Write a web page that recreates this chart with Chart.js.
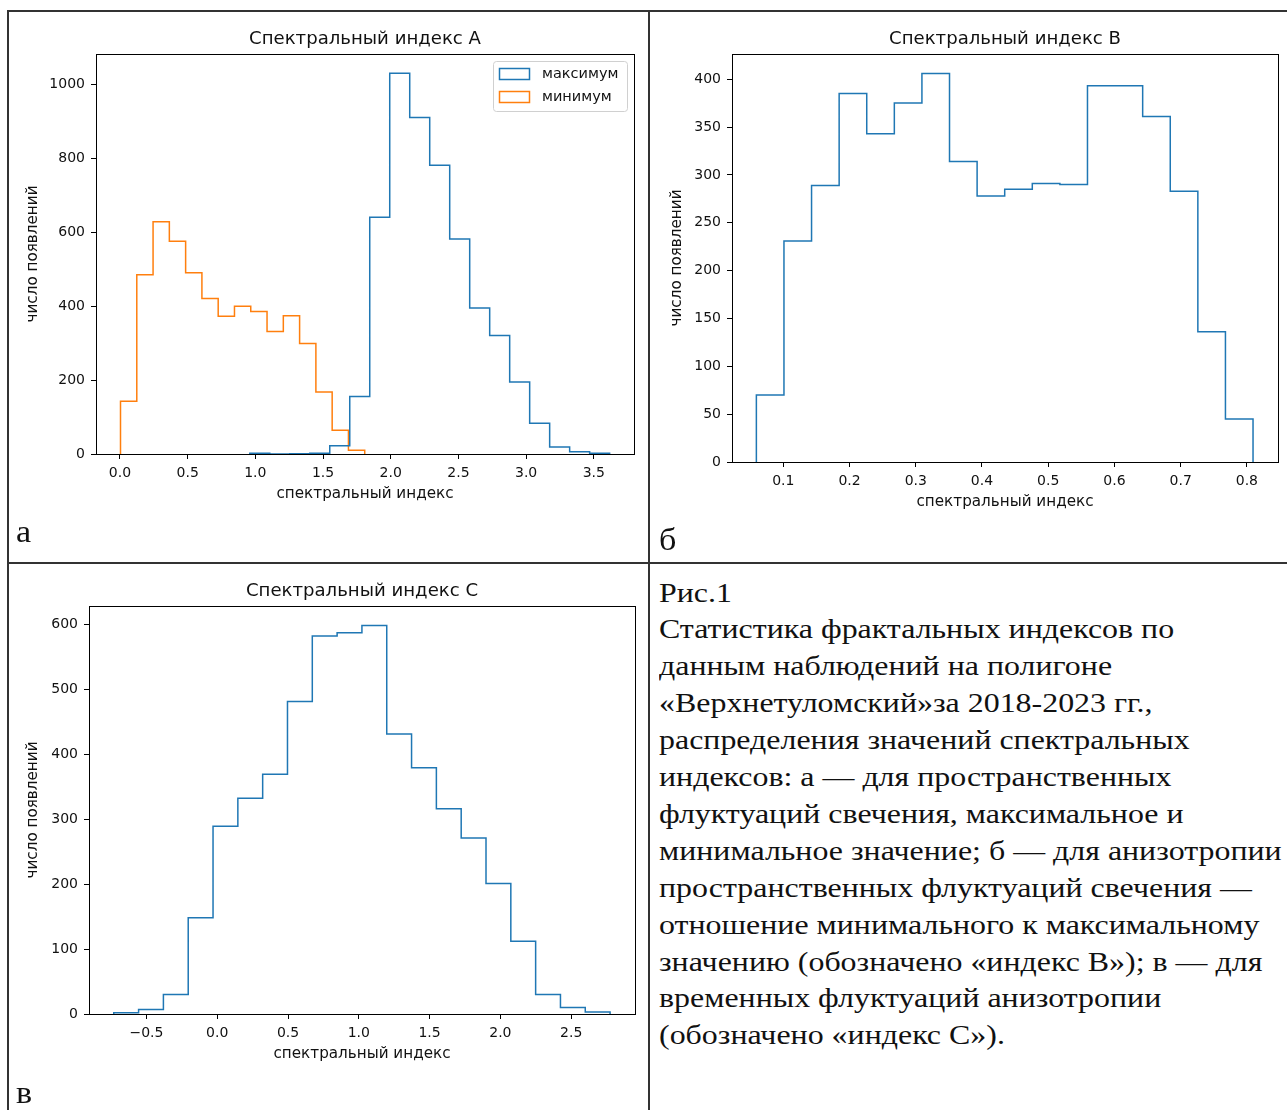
<!DOCTYPE html>
<html lang="ru">
<head>
<meta charset="utf-8">
<title>Спектральные индексы</title>
<script src="https://cdn.jsdelivr.net/npm/chart.js@4.4.1/dist/chart.umd.min.js"></script>
<style>
  html, body { margin: 0; padding: 0; background: #fff; }
  body { width: 1287px; height: 1110px; position: relative; overflow: hidden; }
  .rule { position: absolute; background: #333; }
  canvas { position: absolute; }
  .serif { position: absolute; font-family: "Liberation Serif", serif; color: #111; white-space: nowrap; transform-origin: 0 0; }
  .mark { font-size: 31px; line-height: 31px; transform: scaleX(1.1); }
  .caption { font-size: 28px; line-height: 36.9px; transform: scaleX(1.14); }
</style>
</head>
<body>
<!-- table lines -->
<div class="rule" style="left:7px;top:10px;width:1280px;height:2px"></div>
<div class="rule" style="left:7px;top:10px;width:2px;height:1100px"></div>
<div class="rule" style="left:648px;top:10px;width:2px;height:1100px"></div>
<div class="rule" style="left:7px;top:562px;width:1280px;height:2px"></div>

<canvas id="histA" width="640" height="520" style="left:10px;top:0px"></canvas>
<canvas id="histB" width="637" height="530" style="left:650px;top:0px"></canvas>
<canvas id="histC" width="638" height="547" style="left:10px;top:563px"></canvas>

<div class="serif mark" style="left:16px;top:516px">а</div>
<div class="serif mark" style="left:659px;top:524px">б</div>
<div class="serif mark" style="left:16px;top:1077px">в</div>

<div class="serif caption" style="left:659px;top:574.5px">Рис.1<br>Статистика фрактальных индексов по<br>данным наблюдений на полигоне<br>«Верхнетуломский»за 2018-2023 гг.,<br>распределения значений спектральных<br>индексов: а — для пространственных<br>флуктуаций свечения, максимальное и<br>минимальное значение; б — для анизотропии<br>пространственных флуктуаций свечения —<br>отношение минимального к максимальному<br>значению (обозначено «индекс В»); в — для<br>временных флуктуаций анизотропии<br>(обозначено «индекс С»).</div>

<script>
// --- данные (число появлений по бинам) ---
const maxA = [2, 0, 1, 2, 22, 156, 641, 1031, 911, 782, 582, 395, 321, 195, 83, 19, 6, 2];
const maxAbins = [0.959, 3.617];
const minA = [143, 485, 629, 576, 491, 421, 373, 400, 386, 332, 374, 299, 168, 64, 10];
const minAbins = [0.004, 1.808];

const countsB = [70, 231, 289, 385, 343, 375, 406, 314, 278, 285, 291, 290, 393, 393, 361, 283, 136, 45];
const binsB = [0.0593, 0.8093];

const countsC = [2, 7, 30, 148, 289, 332, 369, 481, 582, 587, 598, 431, 379, 316, 271, 201, 112, 30, 10, 3];
const binsC = [-0.731, 2.775];

// tick labels
const xTicksA = [0, 0.5, 1, 1.5, 2, 2.5, 3, 3.5];
const yTicksA = [0, 200, 400, 600, 800, 1000];
const xTicksB = [0.1, 0.2, 0.3, 0.4, 0.5, 0.6, 0.7, 0.8];
const yTicksB = [0, 50, 100, 150, 200, 250, 300, 350, 400];
const xTicksC = [-0.5, 0, 0.5, 1, 1.5, 2, 2.5];
const yTicksC = [0, 100, 200, 300, 400, 500, 600];

const BLUE = '#1f77b4';
const ORANGE = '#ff7f0e';

Chart.defaults.font.family = '"DejaVu Sans", sans-serif';
Chart.defaults.color = '#111';

// step outline of a histogram, like histtype='step'
function histPoints(range, counts) {
    const w = (range[1] - range[0]) / counts.length;
    const pts = [{x: range[0], y: 0}];
    counts.forEach((c, i) => {
        pts.push({x: range[0] + i * w, y: c});
        pts.push({x: range[0] + (i + 1) * w, y: c});
    });
    pts.push({x: range[1], y: 0});
    return pts;
}

function fmt(v, dec) {
    const s = Math.abs(v).toFixed(dec);
    return v < 0 ? '\u2212' + s : s;
}

// frame, title and legend drawn around the chart area
const framePlugin = {
    id: 'frame',
    afterDatasetsDraw(chart, args, opts) {
        const ctx = chart.ctx;
        const a = chart.chartArea;
        ctx.save();
        ctx.strokeStyle = '#000';
        ctx.lineWidth = 1;
        ctx.strokeRect(Math.round(a.left) + 0.5, Math.round(a.top) + 0.5,
            Math.round(a.right - a.left), Math.round(a.bottom - a.top));

        ctx.save();
        ctx.translate((a.left + a.right) / 2, a.top - opts.titleGap);
        ctx.scale(1.065, 1);
        ctx.fillStyle = '#111';
        ctx.font = '17px "DejaVu Sans"';
        ctx.textAlign = 'center';
        ctx.textBaseline = 'middle';
        ctx.fillText(opts.title, 0, 0);
        ctx.restore();

        if (opts.legend) {
            const bw = 134, bh = 50;
            const bx = a.right - 7 - bw, by = a.top + 7;
            ctx.beginPath();
            ctx.roundRect(bx + 0.5, by + 0.5, bw, bh, 3);
            ctx.fillStyle = 'rgba(255,255,255,0.8)';
            ctx.fill();
            ctx.strokeStyle = '#d0d0d0';
            ctx.lineWidth = 1;
            ctx.stroke();
            chart.data.datasets.forEach((ds, i) => {
                const cy = by + 13 + i * 23;
                ctx.strokeStyle = ds.borderColor;
                ctx.lineWidth = 1.5;
                ctx.strokeRect(bx + 6.5, cy - 5.5, 30, 11);
                ctx.fillStyle = '#111';
                ctx.font = '14.5px "DejaVu Sans"';
                ctx.textAlign = 'left';
                ctx.textBaseline = 'middle';
                ctx.fillText(ds.label, bx + 49, cy);
            });
        }
        ctx.restore();
    }
};

function makeHist(id, cfg) {
    return new Chart(document.getElementById(id), {
        type: 'line',
        data: {
            datasets: cfg.series.map(s => ({
                label: s.label,
                data: histPoints(s.bins, s.counts),
                borderColor: s.color,
                borderWidth: 1.5,
                pointRadius: 0,
                fill: false,
                tension: 0
            }))
        },
        options: {
            responsive: false,
            animation: false,
            events: [],
            layout: {padding: cfg.pad},
            plugins: {
                legend: {display: false},
                tooltip: {enabled: false},
                frame: {title: cfg.title, titleGap: cfg.titleGap, legend: cfg.legend}
            },
            scales: {
                x: {
                    type: 'linear',
                    min: cfg.xRange[0],
                    max: cfg.xRange[1],
                    afterFit: s => { s.height = 50; },
                    afterBuildTicks: s => { s.ticks = cfg.xTicks.map(v => ({value: v})); },
                    ticks: {callback: v => fmt(v, 1), font: {size: 14}, padding: 6, maxRotation: 0, autoSkip: false},
                    grid: {drawOnChartArea: false, tickLength: 5, tickColor: '#000', color: '#000'},
                    border: {display: false},
                    title: {display: true, text: 'спектральный индекс', font: {size: 15.2}, padding: {top: 0, bottom: 1}}
                },
                y: {
                    type: 'linear',
                    min: 0,
                    max: cfg.yMax,
                    afterFit: s => { s.width = cfg.yWidth; },
                    afterBuildTicks: s => { s.ticks = cfg.yTicks.map(v => ({value: v})); },
                    ticks: {callback: v => String(v), font: {size: 14}, padding: 6, autoSkip: false},
                    grid: {drawOnChartArea: false, tickLength: 5, tickColor: '#000', color: '#000'},
                    border: {display: false},
                    title: {display: true, text: 'число появлений', font: {size: 15.2}, padding: {top: cfg.yTitlePad, bottom: 0}}
                }
            }
        },
        plugins: [framePlugin]
    });
}

makeHist('histA', {
    series: [
        {label: 'максимум', bins: maxAbins, counts: maxA, color: BLUE},
        {label: 'минимум', bins: minAbins, counts: minA, color: ORANGE}
    ],
    title: 'Спектральный индекс А', titleGap: 14, legend: true,
    xRange: [-0.177, 3.797], yMax: 1083,
    xTicks: xTicksA, yTicks: yTicksA,
    yWidth: 86, yTitlePad: 13.9,
    pad: {left: 0, right: 16, top: 54, bottom: 16}
});

makeHist('histB', {
    series: [{label: 'индекс B', bins: binsB, counts: countsB, color: BLUE}],
    title: 'Спектральный индекс В', titleGap: 14, legend: false,
    xRange: [0.0225, 0.847], yMax: 426.3,
    xTicks: xTicksB, yTicks: yTicksB,
    yWidth: 82, yTitlePad: 17.9,
    pad: {left: 0, right: 9, top: 54, bottom: 18}
});

makeHist('histC', {
    series: [{label: 'индекс C', bins: binsC, counts: countsC, color: BLUE}],
    title: 'Спектральный индекс С', titleGap: 14, legend: false,
    xRange: [-0.906, 2.951], yMax: 628,
    xTicks: xTicksC, yTicks: yTicksC,
    yWidth: 79, yTitlePad: 13.9,
    pad: {left: 0, right: 13, top: 43, bottom: 46}
});
</script>
</body>
</html>
